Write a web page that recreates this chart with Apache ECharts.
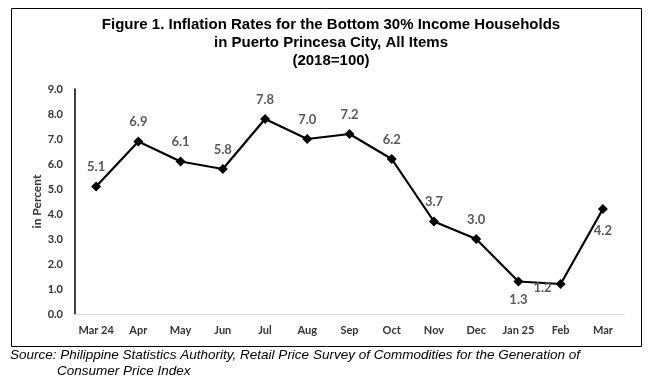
<!DOCTYPE html>
<html>
<head>
<meta charset="utf-8">
<script src="https://cdn.jsdelivr.net/npm/echarts@6/dist/echarts.min.js"></script>
<style>
html,body{margin:0;padding:0;background:#fff;}
#chart{width:650px;height:382px;}
</style>
</head>
<body>
<div id="chart"></div>
<script>
const categories = ["Mar 24","Apr","May","Jun","Jul","Aug","Sep","Oct","Nov","Dec","Jan 25","Feb","Mar"];
const values = [5.1,6.9,6.1,5.8,7.8,7.0,7.2,6.2,3.7,3.0,1.3,1.2,4.2];
const titleLines = ["Figure 1. Inflation Rates for the Bottom 30% Income Households","in Puerto Princesa City, All Items","(2018=100)"];
const yAxisName = "in Percent";
const sourceLines = ["Source: Philippine Statistics Authority, Retail Price Survey of Commodities for the Generation of","Consumer Price Index"];

const labelPos = {10:{position:'bottom',distance:7},11:{position:'left',distance:4,offset:[0,4]},12:{position:'bottom',distance:10}};

const chart = echarts.init(document.getElementById('chart'));
chart.setOption({
  animation:false,
  backgroundColor:'#fff',
  title:{
    text:titleLines.join('\n'),
    left:326, top:11, textAlign:'center',
    textStyle:{fontFamily:'Liberation Sans, Arial, sans-serif',fontWeight:'bold',fontSize:15,lineHeight:18,color:'#000'}
  },
  grid:{left:75,right:26,top:89,bottom:68},
  xAxis:{
    type:'category', data:categories, boundaryGap:true,
    axisLine:{lineStyle:{color:'#d9d9d9',width:1}},
    axisTick:{show:false},
    axisLabel:{fontFamily:'Lato, sans-serif',fontWeight:'bold',fontSize:11,color:'#333',margin:11,interval:0}
  },
  yAxis:{
    type:'value', min:0, max:9, interval:1,
    name:yAxisName, nameLocation:'middle', nameGap:32, nameRotate:90, nameMoveOverlap:false,
    nameTextStyle:{fontFamily:'Lato, sans-serif',fontWeight:'bold',fontSize:12,color:'#333'},
    axisLine:{show:true,lineStyle:{color:'#000',width:1.5}},
    axisTick:{show:false},
    splitLine:{show:false},
    axisLabel:{fontFamily:'Lato, sans-serif',fontWeight:'bold',fontSize:11,color:'#333',margin:12,formatter:v=>v.toFixed(1)}
  },
  series:[{
    type:'line',
    data:values.map((v,i)=>{
      const o={value:v};
      if(labelPos[i]) o.label=labelPos[i];
      return o;
    }),
    symbol:'diamond', symbolSize:10,
    lineStyle:{color:'#000',width:2.2},
    itemStyle:{color:'#000'},
    label:{show:true,position:'top',distance:8,fontFamily:'Lato, sans-serif',fontWeight:'bold',fontSize:13,color:'#595959',formatter:p=>p.value.toFixed(1)}
  }],
  graphic:[
    {type:'rect',shape:{x:11.5,y:8.5,width:630,height:338},style:{fill:'none',stroke:'#000',lineWidth:1},silent:true},
    {type:'text',left:10,top:348,style:{text:sourceLines[0],font:'italic 13.5px "Liberation Sans", Arial, sans-serif',fill:'#000'}},
    {type:'text',left:57,top:364,style:{text:sourceLines[1],font:'italic 13.5px "Liberation Sans", Arial, sans-serif',fill:'#000'}}
  ]
});
</script>
</body>
</html>
